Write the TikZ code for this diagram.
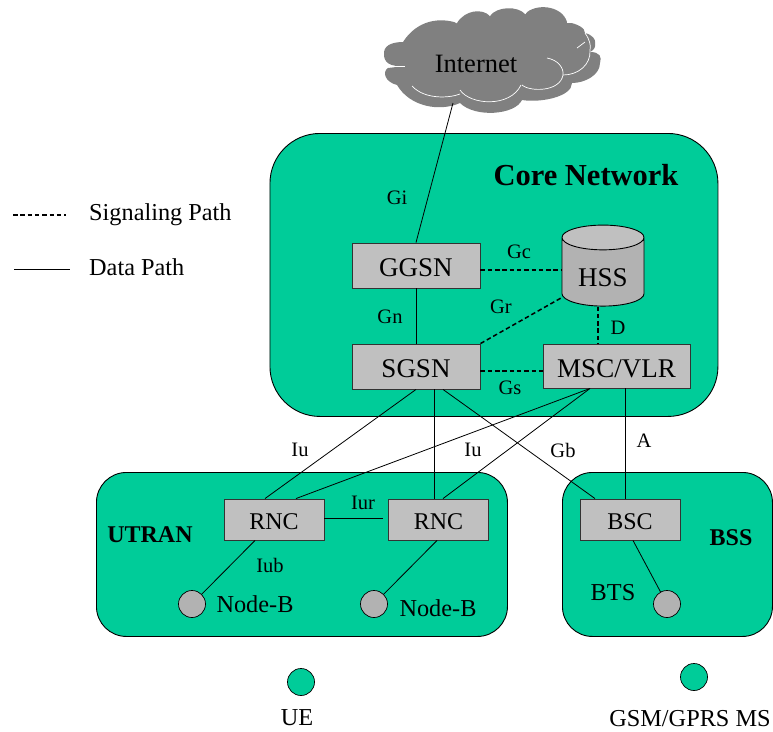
\documentclass[tikz,border=0pt]{standalone}
\usepackage{fontspec}
\setmainfont{Liberation Serif}
\usetikzlibrary{positioning}
\usetikzlibrary{shapes.geometric}
\definecolor{netgreen}{RGB}{0,204,153}
\definecolor{boxgray}{RGB}{192,192,192}
\definecolor{dotgray}{RGB}{178,178,178}
\definecolor{cloudgray}{RGB}{128,128,128}

\begin{document}
\begin{tikzpicture}[
    x = 1pt, y = -1pt,
    area/.style = {shape = rectangle, rounded corners = #1, draw = black, fill = netgreen, line width = 0.9pt, anchor = north west, inner sep = 0},
    box/.style = {shape = rectangle, draw = black!80, fill = boxgray, line width = 0.9pt, inner sep = 0, text height = 22pt, text depth = 0pt, font = \fontsize{27}{29}\selectfont},
    smallbox/.style = {box, minimum width = 100pt, minimum height = 41pt, text height = 20pt, font = \fontsize{24}{26}\selectfont},
    dot/.style = {shape = circle, draw = black, fill = dotgray, line width = 0.7pt, minimum size = 27pt, inner sep = 0},
    station/.style = {dot, fill = netgreen},
    lbl/.style = {inner sep = 0, font = \fontsize{20.5}{22}\selectfont},
    txt/.style = {inner sep = 0, font = \fontsize{24.3}{26}\selectfont},
    head/.style = {inner sep = 0, font = \fontsize{24}{26}\selectfont\bfseries},
    data/.style = {line width = 0.8pt},
    signal/.style = {line width = 1.5pt, dash pattern = on 4.5pt off 2.8pt},
    puff/.style = {white, line width = 0.7pt},
    ]
    \useasboundingbox (0, 0) rectangle (773, 731);

    % cloud
    \fill[cloudgray] (403, 42) .. controls (417, 20) and (440, 17) .. (457, 23)
        .. controls (465, 10) and (482, 8) .. (490, 16)
        .. controls (497, 6) and (518, 6) .. (525, 14)
        .. controls (535, 3) and (562, 5) .. (567, 22)
        .. controls (578, 24) and (585, 28) .. (585, 33)
        .. controls (593, 35) and (596, 40) .. (595, 43)
        .. controls (596, 47) and (594, 50) .. (590, 52)
        .. controls (600, 52) and (602, 57) .. (600, 63)
        .. controls (600, 75) and (585, 83) .. (572, 83)
        .. controls (572, 97) and (540, 103) .. (522, 100)
        .. controls (515, 115) and (475, 118) .. (460, 103)
        .. controls (440, 112) and (410, 107) .. (397, 85)
        .. controls (385, 82) and (382, 72) .. (388, 68)
        -- (405, 66)
        .. controls (390, 67) and (383, 63) .. (384, 52)
        .. controls (385, 44) and (395, 42) .. (403, 42) -- cycle;
    \draw[puff] (547, 58) .. controls (558, 60) and (564, 68) .. (563, 75);
    \draw[puff] (585, 33) .. controls (590, 40) and (591, 46) .. (590, 50) .. controls (591, 65) and (578, 75) .. (563, 75);
    \draw[puff] (577, 48) -- (585, 42);
    \draw[puff] (522, 85) .. controls (530, 92) and (560, 92) .. (563, 75);
    \draw[puff] (460, 90) .. controls (470, 105) and (510, 108) .. (521, 85);
    \draw[puff] (412, 86) .. controls (425, 100) and (450, 98) .. (460, 94);
    \draw[puff] (388, 66) -- (405, 66);
    \draw[puff] (450, 18) -- (457, 23);
    \draw[puff] (490, 16) -- (489, 13);
    \draw[puff] (525, 14) -- (527, 11);
    \draw[puff] (567, 22) -- (572, 22);
    \node[inner sep = 0, font = \fontsize{26.5}{28}\selectfont] (internet) at (476, 64) {Internet};
    \coordinate (cloudfoot) at (453, 103);

    % areas
    \node[area = 50pt, minimum width = 448pt, minimum height = 283pt] (core) at (269.5, 133) {};
    \node[area = 30pt, minimum width = 411pt, minimum height = 164pt] (utran) at (96, 472) {};
    \node[area = 30pt, minimum width = 210pt, minimum height = 164pt] (bss) at (562, 472) {};

    % nodes
    \node[box, minimum width = 128pt, minimum height = 45pt] (ggsn) at (416, 265.5) {GGSN};
    \node[box, minimum width = 128pt, minimum height = 45pt] (sgsn) at (416, 366.5) {SGSN};
    \node[box, minimum width = 147pt, minimum height = 44pt] (msc) at (616.5, 366) {MSC/VLR};
    \node[shape = cylinder, shape border rotate = 90, aspect = 0.5, draw = black, line width = 0.9pt,
        cylinder uses custom fill, cylinder body fill = dotgray, cylinder end fill = boxgray,
        minimum width = 82pt, minimum height = 81pt, inner sep = 0, text height = 28pt, text depth = 0pt,
        font = \fontsize{27}{29}\selectfont] (hss) at (603, 272) {HSS};
    \node[smallbox] (rnca) at (274, 519.5) {RNC};
    \node[smallbox] (rncb) at (438.5, 519.5) {RNC};
    \node[smallbox] (bsc) at (630, 519.5) {BSC};
    \node[dot] (nba) at (192, 604) {};
    \node[dot] (nbb) at (374, 604) {};
    \node[dot] (bts) at (667, 604) {};
    \node[station] (ue) at (301, 682) {};
    \node[station] (ms) at (694, 677) {};

    % data paths
    \path[data] (cloudfoot) edge (ggsn.north);
    \path[data] (ggsn) edge (sgsn);
    \path[data] (sgsn.south) edge ([xshift=-9pt]rnca.north);
    \path[data] ([xshift=18pt]sgsn.south) edge ([xshift=-4.5pt]rncb.north);
    \path[data] ([xshift=27pt]sgsn.south) edge ([xshift=-35pt]bsc.north);
    \path[data] ([xshift=-26.5pt]msc.south) edge ([xshift=22pt]rnca.north);
    \path[data] ([xshift=-26.5pt]msc.south) edge ([xshift=4.5pt]rncb.north);
    \path[data] ([xshift=8.5pt]msc.south) edge ([xshift=-5pt]bsc.north);
    \path[data] ([yshift=1.5pt]rnca.east) edge ([xshift=-5pt,yshift=1.5pt]rncb.west);
    \path[data] ([xshift=-19pt]rnca.south) edge (nba);
    \path[data] ([xshift=-1.5pt]rncb.south) edge (nbb);
    \path[data] ([xshift=3pt]bsc.south) edge (bts);

    % signaling paths
    \path[signal] ([yshift=-4.5pt]ggsn.east) edge ([xshift=-41pt,yshift=2pt]hss.center);
    \path[signal] (sgsn.north east) edge ([xshift=-42pt,yshift=-26pt]hss.center);
    \path[signal] ([yshift=-4.5pt]sgsn.east) edge ([yshift=-5pt]msc.west);
    \path[signal] ([xshift=-5pt]hss.south) edge ([xshift=-18.5pt]msc.north);

    % legend
    \coordinate (sigleft) at (13, 215);
    \coordinate (sigright) at (66, 215);
    \coordinate (dataleft) at (14, 269);
    \coordinate (dataright) at (70, 269);
    \path[signal, line width = 1.2pt] (sigleft) edge (sigright);
    \path[data] (dataleft) edge (dataright);
    \node[txt, anchor = west] (sigtext) at (89, 215) {Signaling Path};
    \node[txt, anchor = west] (datatext) at (89, 267) {Data Path};

    % labels
    \node[inner sep = 0, font = \fontsize{30.5}{32}\selectfont\bfseries] (corelabel) at (586, 175) {Core Network};
    \node[head] (utranlabel) at (150, 535) {UTRAN};
    \node[head] (bsslabel) at (731, 538) {BSS};
    \node[lbl] (gi) at (397, 198) {Gi};
    \node[lbl] (gc) at (519, 252) {Gc};
    \node[lbl] (gr) at (501, 307) {Gr};
    \node[lbl] (gn) at (390, 317) {Gn};
    \node[lbl] (dlabel) at (618, 328) {D};
    \node[lbl] (gs) at (510, 388) {Gs};
    \node[lbl] (iua) at (300, 450) {Iu};
    \node[lbl] (iub) at (473, 450) {Iu};
    \node[lbl] (gb) at (563, 450) {Gb};
    \node[lbl] (alabel) at (644, 441) {A};
    \node[lbl] (iur) at (363, 503) {Iur};
    \node[lbl] (iublabel) at (270, 565) {Iub};
    \node[txt] (nbatext) at (255, 604) {Node-B};
    \node[txt] (nbbtext) at (438, 608) {Node-B};
    \node[txt] (btstext) at (613, 593) {BTS};
    \node[txt] (uetext) at (297, 718) {UE};
    \node[txt] (mstext) at (690, 719) {GSM/GPRS MS};
\end{tikzpicture}
\end{document}
